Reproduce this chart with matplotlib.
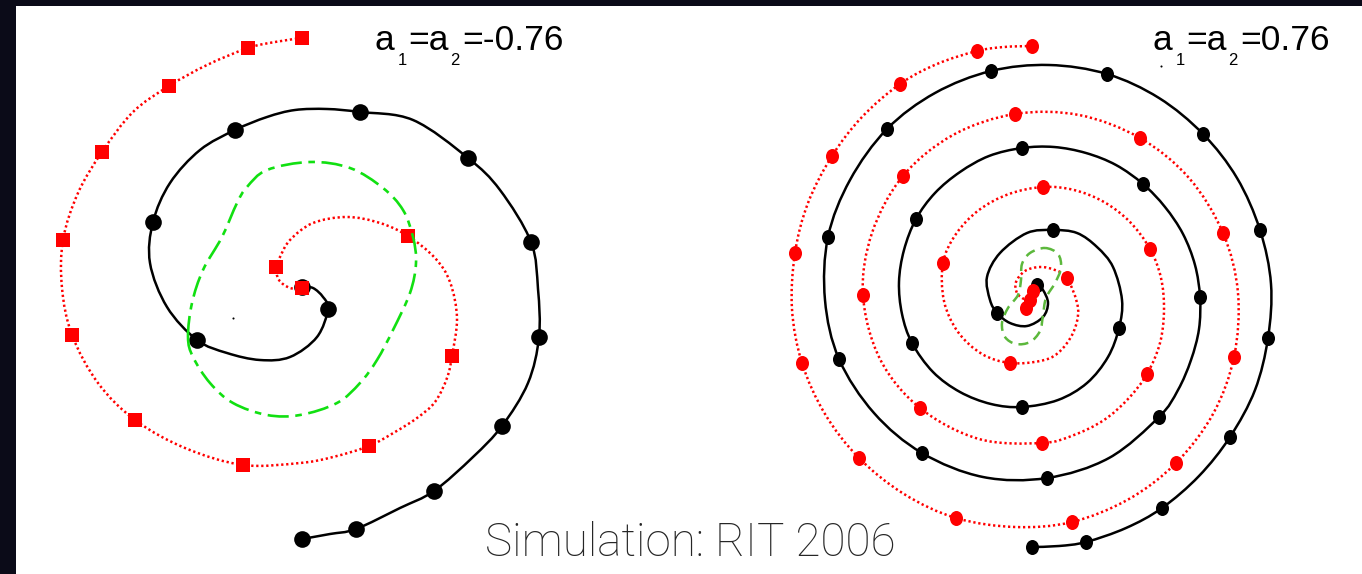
import matplotlib

matplotlib.use("Agg")

import matplotlib.pyplot as plt
import numpy as np
from matplotlib.patches import PathPatch, Rectangle
from matplotlib.path import Path
from matplotlib.transforms import Affine2D

BLACK = "#000000"
RED = "#ff0000"
GREEN_LEFT = "#11e011"
GREEN_RIGHT = "#5cb83c"
TEXT_GREY = "#262626"

# ---- left panel: a1 = a2 = -0.76 (pixel coordinates) ----
left_red_x = [302, 275, 248, 207, 169, 133, 102, 78, 63, 62, 72, 98, 135, 185, 243, 300, 333, 369,
              395, 417, 435, 447, 452, 457, 450, 435, 408, 380, 347, 313, 290, 280, 276, 279, 290, 302]
left_red_y = [38, 42, 48, 65, 86, 112, 152, 193, 240, 288, 335, 383, 420, 448, 465, 463, 457, 446,
              432, 418, 402, 378, 356, 318, 282, 258, 236, 223, 217, 223, 240, 257, 267, 280, 288, 288]
left_red_mx = [302, 248, 169, 102, 63, 72, 135, 243, 369, 452, 408, 276, 302]
left_red_my = [38, 48, 86, 152, 240, 335, 420, 465, 446, 356, 236, 267, 288]

left_black_x = [302, 330, 356, 400, 434, 473, 502, 528, 539, 538, 531, 500, 468, 413, 360, 327, 295,
                267, 235, 200, 170, 153, 150, 167, 197, 227, 260, 290, 317, 328, 323, 313, 302]
left_black_y = [539, 534, 529, 508, 491, 457, 426, 383, 337, 289, 242, 190, 158, 120, 112, 109, 110,
                117, 130, 150, 183, 222, 263, 307, 340, 353, 360, 357, 337, 309, 297, 288, 287]
left_black_mx = [302, 356, 434, 502, 539, 531, 468, 360, 235, 153, 197, 328, 302]
left_black_my = [539, 529, 491, 426, 337, 242, 158, 112, 130, 222, 340, 309, 287]

left_green_x = [188, 192, 203, 222, 237, 247, 267, 310, 350, 383, 403, 413, 416, 410, 393, 377, 360,
                337, 300, 267, 233, 210, 193, 188]
left_green_y = [337, 303, 270, 237, 203, 187, 170, 162, 168, 188, 210, 237, 263, 293, 330, 360, 383,
                403, 415, 415, 403, 383, 357, 337]

# ---- right panel: a1 = a2 = 0.76 ----
right_red_x = [1032, 1004, 977, 937, 900, 862, 832, 808, 795, 792, 802, 825, 859, 904, 956, 1015,
               1072, 1129, 1176, 1213, 1234, 1238, 1223, 1189, 1140, 1079, 1015, 953, 903, 872, 863,
               880, 920, 979, 1042, 1074, 1104, 1128, 1147, 1160, 1164, 1161, 1150, 1130, 1104, 1074,
               1043, 1009, 979, 956, 943, 944, 958, 982, 1010, 1040, 1058, 1073, 1078, 1067, 1055,
               1040, 1025, 1016, 1017, 1024, 1030]
right_red_y = [46, 47, 51, 64, 84, 117, 156, 203, 253, 309, 363, 414, 458, 494, 518, 527,
               522, 499, 463, 414, 357, 293, 233, 178, 138, 115, 114, 135, 176, 233, 295,
               359, 408, 439, 443, 435, 420, 399, 374, 343, 310, 278, 249, 222, 202, 190,
               187, 194, 210, 234, 263, 301, 332, 354, 363, 361, 353, 333, 308, 278, 270,
               267, 271, 282, 293, 299, 300]
right_red_mx = [1032, 977, 900, 832, 795, 802, 859, 956, 1072, 1176, 1234, 1223, 1140, 1015, 903,
                863, 920, 1042, 1147, 1150, 1043, 943, 1010, 1067, 1033, 1030, 1026]
right_red_my = [46, 51, 84, 156, 253, 363, 458, 518, 522, 463, 357, 233, 138, 114, 176,
                295, 408, 443, 374, 249, 187, 263, 363, 278, 291, 300, 308]

right_black_x = [1032, 1059, 1086, 1126, 1162, 1199, 1230, 1255, 1268, 1271, 1260, 1237, 1203, 1159,
                 1107, 1049, 991, 935, 887, 850, 828, 825, 839, 874, 922, 983, 1047, 1109, 1159,
                 1178, 1191, 1199, 1200, 1195, 1183, 1165, 1143, 1116, 1086, 1054, 1022, 989, 960,
                 935, 916, 904, 899, 902, 912, 933, 960, 991, 1022, 1058, 1087, 1108, 1119, 1122,
                 1113, 1097, 1077, 1053, 1027, 1000, 987, 990, 997, 1010, 1027, 1043, 1048, 1043, 1037]
right_black_y = [547, 546, 542, 528, 508, 476, 437, 390, 338, 284, 230, 178, 134, 98,
                 74, 65, 71, 93, 129, 180, 237, 300, 359, 413, 453, 477, 478, 458, 417,
                 390, 360, 329, 297, 265, 234, 207, 184, 165, 153, 147, 148, 156, 172,
                 193, 219, 250, 282, 314, 343, 372, 392, 404, 407, 400, 383, 357, 328, 300,
                 267, 247, 233, 230, 233, 253, 277, 300, 313, 323, 326, 317, 303, 290, 285]
right_black_mx = [1032, 1086, 1162, 1230, 1268, 1260, 1203, 1107, 991, 887, 828, 839, 922, 1047,
                  1159, 1200, 1143, 1022, 916, 912, 1022, 1119, 1053, 997, 1037]
right_black_my = [547, 542, 508, 437, 338, 230, 134, 74, 71, 129, 237, 359, 453, 478,
                  417, 297, 184, 148, 219, 343, 407, 328, 230, 313, 285]

right_green_x = [1045, 1058, 1061, 1055, 1046, 1043, 1040, 1030, 1016, 1005, 1002, 1008, 1018, 1021,
                 1022, 1030, 1045]
right_green_y = [248, 254, 268, 283, 298, 315, 331, 342, 344, 337, 323, 308, 295, 280,
                 264, 253, 248]

# small specks in the original scan
speck_x = [233, 1161]
speck_y = [318, 66]

WIDTH, HEIGHT = 1362, 574


def ellipse_marker(stretch: float) -> Path:
    return Affine2D().scale(1.0, stretch).transform_path(Path.unit_circle())


def smooth_path(xs, ys, closed=False) -> Path:
    # cubic Bezier pieces through the read points (Catmull-Rom tangents)
    pts = np.column_stack([xs, ys]).astype(float)
    if closed:
        pts = pts[:-1]
        n = len(pts)
        prev_pts = np.roll(pts, 1, axis=0)
        next_pts = np.roll(pts, -1, axis=0)
        next2 = np.roll(pts, -2, axis=0)
        segs = range(n)
    else:
        n = len(pts)
        padded = np.vstack([pts[:1], pts, pts[-1:]])
        prev_pts = padded[:-2]
        next_pts = padded[2:]
        next2 = np.vstack([padded[3:], pts[-1:]])
        segs = range(n - 1)
    verts = [pts[0]]
    codes = [Path.MOVETO]
    for i in segs:
        p1 = pts[i]
        p2 = next_pts[i]
        c1 = p1 + (p2 - prev_pts[i]) / 6.0
        c2 = p2 - (next2[i] - p1) / 6.0
        verts += [c1, c2, p2]
        codes += [Path.CURVE4] * 3
    return Path(np.array(verts), codes)


def draw_curve(ax, xs, ys, *, color, linewidth, linestyle, zorder, closed=False):
    patch = PathPatch(smooth_path(xs, ys, closed), facecolor="none", edgecolor=color,
                      linewidth=linewidth, linestyle=linestyle, capstyle="butt",
                      joinstyle="round", zorder=zorder)
    ax.add_patch(patch)


def main() -> None:
    fig = plt.figure(figsize=(WIDTH / 100, HEIGHT / 100), dpi=100, facecolor="#0b0b18")
    ax = fig.add_axes([0, 0, 1, 1])
    ax.set_xlim(0, WIDTH)
    ax.set_ylim(HEIGHT, 0)
    ax.axis("off")
    ax.add_patch(Rectangle((16, 6), WIDTH - 16, HEIGHT - 6, facecolor="white", edgecolor="none", zorder=0))

    dotted = (0, (0.9, 1.1))

    # left panel
    draw_curve(ax, left_black_x, left_black_y, color=BLACK, linewidth=1.8, linestyle="-", zorder=2)
    ax.plot(left_black_mx, left_black_my, linestyle="none", marker="o", markersize=12,
            color=BLACK, markeredgewidth=0, zorder=3)
    draw_curve(ax, left_red_x, left_red_y, color=RED, linewidth=1.8, linestyle=dotted, zorder=4)
    ax.plot(left_red_mx, left_red_my, linestyle="none", marker="s", markersize=10.5,
            color=RED, markeredgewidth=0, zorder=5)
    draw_curve(ax, left_green_x, left_green_y, color=GREEN_LEFT, linewidth=1.9,
               linestyle=(0, (8, 2.5, 2.5, 2.5)), zorder=6, closed=True)

    # right panel
    oval = ellipse_marker(1.15)
    draw_curve(ax, right_black_x, right_black_y, color=BLACK, linewidth=1.8, linestyle="-", zorder=2)
    ax.plot(right_black_mx, right_black_my, linestyle="none", marker=oval, markersize=10.8,
            color=BLACK, markeredgewidth=0, zorder=3)
    draw_curve(ax, right_red_x, right_red_y, color=RED, linewidth=1.8, linestyle=dotted, zorder=4)
    ax.plot(right_red_mx, right_red_my, linestyle="none", marker=oval, markersize=10.8,
            color=RED, markeredgewidth=0, zorder=5)
    draw_curve(ax, right_green_x, right_green_y, color=GREEN_RIGHT, linewidth=1.8,
               linestyle=(0, (4, 2.5)), zorder=6, closed=True)

    ax.plot(speck_x, speck_y, linestyle="none", marker="o", markersize=1.5, color=BLACK,
            markeredgewidth=0, zorder=3)

    # labels: a_1 = a_2 = value
    label_font = dict(family="Liberation Sans", color=BLACK, va="baseline", ha="left", zorder=7)
    for x0, value in ((375, "=-0.76"), (1153, "=0.76")):
        ax.text(x0, 50, "a", fontsize=25.5, **label_font)
        ax.text(x0 + 23, 65, "1", fontsize=12, **label_font)
        ax.text(x0 + 33, 50, "=a", fontsize=25.5, **label_font)
        ax.text(x0 + 75, 65, "2", fontsize=12, **label_font)
        ax.text(x0 + 87, 50, value, fontsize=25.5, **label_font)

    ax.text(690, 556, "Simulation: RIT 2006", fontsize=33, family="Roboto", fontweight="light",
            color=TEXT_GREY, ha="center", va="baseline", zorder=7)

    fig.savefig("out.png", dpi=100, facecolor=fig.get_facecolor())
    plt.close(fig)


if __name__ == "__main__":
    main()
